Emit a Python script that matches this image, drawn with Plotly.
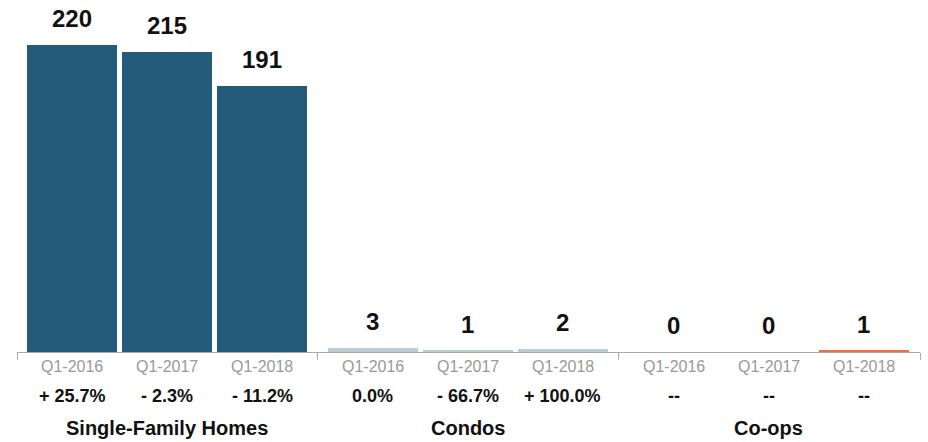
import plotly.graph_objects as go

groups = ["Single-Family Homes", "Condos", "Co-ops"]
periods = ["Q1-2016", "Q1-2017", "Q1-2018"]
sfh_values = [220, 215, 191]
condo_values = [3, 1, 2]
coop_values = [0, 0, 1]
sfh_changes = ["+ 25.7%", "- 2.3%", "- 11.2%"]
condo_changes = ["0.0%", "- 66.7%", "+ 100.0%"]
coop_changes = ["--", "--", "--"]

colors = ["#245b7b", "#b9cdd5", "#e8743b"]
all_values = [sfh_values, condo_values, coop_values]
all_changes = [sfh_changes, condo_changes, coop_changes]

group_offset = 3.168  # in bar-slot units
bar_w = 0.947

FONT = "Liberation Sans, Arial, Helvetica, sans-serif"

fig = go.Figure()
annotations = []
for gi, (vals, chg) in enumerate(zip(all_values, all_changes)):
    xs = [gi * group_offset + i for i in range(3)]
    fig.add_trace(go.Bar(
        x=xs, y=vals, width=bar_w, marker_color=colors[gi],
        marker_line_width=0,
        cliponaxis=False, hoverinfo="skip", showlegend=False,
    ))
    for i, x in enumerate(xs):
        annotations.append(dict(x=x, y=vals[i], xref="x", yref="y",
                                text="<b>" + str(vals[i]) + "</b>", showarrow=False,
                                font=dict(family=FONT, size=24, color="#111111"),
                                yanchor="bottom", yshift=11))
        annotations.append(dict(x=x, y=-0.0426, xref="x", yref="paper",
                                text=periods[i], showarrow=False,
                                font=dict(family=FONT, size=16, color="#999999"),
                                yanchor="middle"))
        annotations.append(dict(x=x, y=-0.125, xref="x", yref="paper",
                                text="<b>" + chg[i] + "</b>", showarrow=False,
                                font=dict(family=FONT, size=18, color="#111111"),
                                yanchor="middle"))
    annotations.append(dict(x=gi * group_offset + 1, y=-0.216, xref="x", yref="paper",
                            text="<b>" + groups[gi] + "</b>", showarrow=False,
                            font=dict(family=FONT, size=20, color="#111111"),
                            yanchor="middle"))

tick_pos = [-0.579, 2.584, 5.753, 8.926]
fig.update_layout(
    width=928, height=442,
    margin=dict(l=17, r=8, t=0, b=90, pad=0),
    plot_bgcolor="white", paper_bgcolor="white",
    bargap=0,
    annotations=annotations,
    xaxis=dict(range=[-0.579, 8.926], showgrid=False, zeroline=False,
               showline=True, linecolor="#aaaaaa", linewidth=1,
               tickvals=tick_pos, ticktext=["", "", "", ""],
               ticks="outside", ticklen=7, tickcolor="#aaaaaa", tickwidth=1,
               fixedrange=True),
    yaxis=dict(range=[0, 252.3], visible=False, fixedrange=True),
)

fig.write_html("out.html", config={"displayModeBar": False},
               post_script="document.body.style.margin='0';document.body.style.overflow='hidden';")
